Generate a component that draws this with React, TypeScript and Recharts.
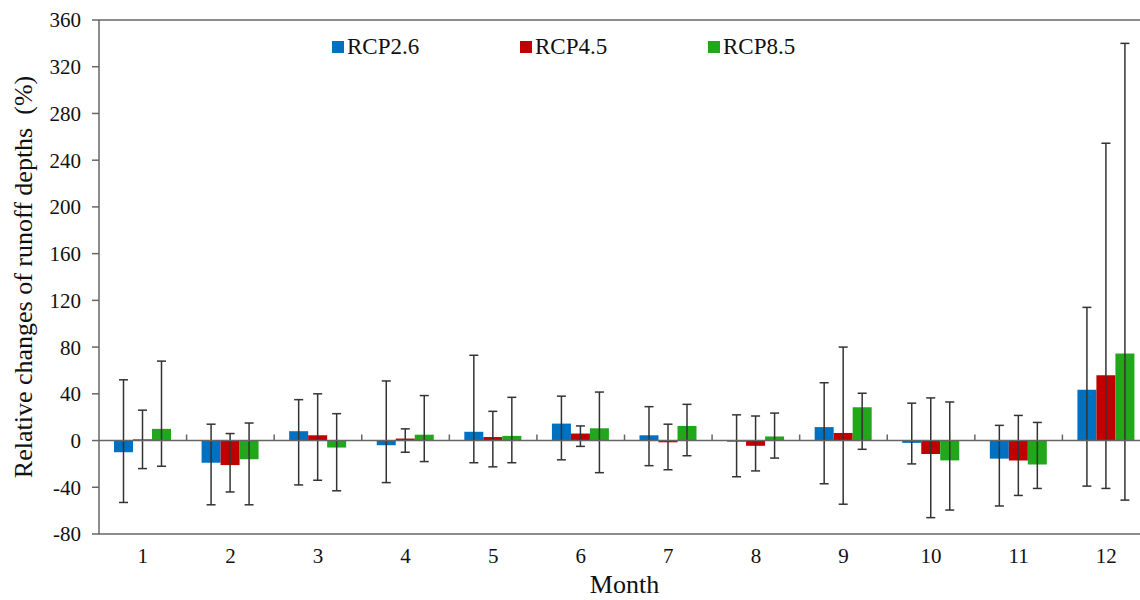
import { BarChart, Bar, XAxis, YAxis, ErrorBar, ReferenceLine } from 'recharts';

const months = ['1', '2', '3', '4', '5', '6', '7', '8', '9', '10', '11', '12'];

// mean relative change (%) per scenario
const rcp26 = [-10, -19, 8, -4, 7.5, 14.5, 4.5, -1, 11.5, -2, -15.5, 43.5];
const rcp45 = [1, -21, 4.5, 1.7, 3, 6, -1.5, -4.5, 6.5, -11.5, -17, 56];
const rcp85 = [10, -16, -6, 5, 4, 10.5, 12.5, 3.5, 28.5, -17, -20.5, 74.5];

// error bar ends (low / high)
const rcp26Low = [-53, -55, -38, -36, -19, -16.5, -21.5, -31, -37, -20, -56, -39];
const rcp26High = [52, 14, 35, 51, 73, 38, 29, 22, 49.5, 32, 13, 114];
const rcp45Low = [-24, -44, -34, -10, -22.5, -5, -25, -26, -54.5, -66, -47, -41];
const rcp45High = [26, 6, 40, 10, 25, 12.5, 14, 21, 80, 36.5, 21.5, 254.5];
const rcp85Low = [-22, -55, -43, -18, -19, -27.5, -13, -15, -7.5, -59.5, -41, -51];
const rcp85High = [68, 15, 23, 38.5, 37, 41.5, 31, 23.5, 40.5, 33, 15.5, 340];

const yTicks = [-80, -40, 0, 40, 80, 120, 160, 200, 240, 280, 320, 360];

const data = months.map((m, i) => ({
    month: m,
    rcp26: rcp26[i],
    rcp45: rcp45[i],
    rcp85: rcp85[i],
    e26: [rcp26[i] - rcp26Low[i], rcp26High[i] - rcp26[i]],
    e45: [rcp45[i] - rcp45Low[i], rcp45High[i] - rcp45[i]],
    e85: [rcp85[i] - rcp85Low[i], rcp85High[i] - rcp85[i]],
}));

const FONT = 'Liberation Serif';
const AXIS = '#666';
const series = [
    { key: 'rcp26', err: 'e26', name: 'RCP2.6', color: '#0070C0' },
    { key: 'rcp45', err: 'e45', name: 'RCP4.5', color: '#C00000' },
    { key: 'rcp85', err: 'e85', name: 'RCP8.5', color: '#21A61C' },
];

// zero line with small category separator ticks
function ZeroLine(props: any) {
    const { x1, x2, y1 } = props;
    const n = months.length;
    const step = (x2 - x1) / n;
    const ticks = [];
    for (let i = 1; i < n; i++) {
        const x = x1 + step * i;
        ticks.push(<line key={i} x1={x} x2={x} y1={y1} y2={y1 - 6} stroke={AXIS} strokeWidth={1.5} />);
    }
    return (
        <g>
            <line x1={x1} x2={x2} y1={y1} y2={y1} stroke={AXIS} strokeWidth={1.5} />
            {ticks}
        </g>
    );
}

export default function App() {
    return (
        <div
            style={{
                position: 'absolute',
                left: 0,
                top: 0,
                width: 1140,
                height: 600,
                overflow: 'hidden',
                background: '#fff',
                fontFamily: FONT,
            }}
        >
            <div style={{ position: 'absolute', top: 34, left: 332, display: 'flex', fontSize: 23, color: '#111', zIndex: 2 }}>
                {series.map((s) => (
                    <div key={s.key} style={{ display: 'flex', alignItems: 'center', width: 188 }}>
                        <span style={{ display: 'inline-block', width: 12, height: 12, background: s.color, marginRight: 3 }} />
                        <span>{s.name}</span>
                    </div>
                ))}
            </div>
            <BarChart
                width={1152}
                height={600}
                data={data}
                margin={{ top: 20, right: 2, left: 0, bottom: 6 }}
                barCategoryGap={15}
                barGap={0}
                style={{ fontFamily: FONT }}
            >
                <XAxis
                    dataKey="month"
                    axisLine={{ stroke: AXIS, strokeWidth: 1.5 }}
                    tickLine={false}
                    tickMargin={8}
                    height={60}
                    tick={{ fontSize: 21, fill: '#111', fontFamily: FONT }}
                    label={{ value: 'Month', position: 'insideBottom', offset: 1, fontSize: 26, fill: '#111', fontFamily: FONT }}
                />
                <YAxis
                    domain={[-80, 360]}
                    ticks={yTicks}
                    interval={0}
                    width={99}
                    axisLine={{ stroke: AXIS, strokeWidth: 1.5 }}
                    tickLine={{ stroke: AXIS, strokeWidth: 1.5 }}
                    tickSize={7}
                    tickMargin={11}
                    tick={{ fontSize: 21, fill: '#111', fontFamily: FONT }}
                    label={{
                        value: 'Relative changes of runoff depths\u00a0 (%)',
                        angle: -90,
                        position: 'insideLeft',
                        offset: 23,
                        style: { textAnchor: 'middle', fontFamily: FONT },
                        fontSize: 26,
                        fill: '#111',
                    }}
                />
                <ReferenceLine y={360} stroke={AXIS} strokeWidth={1.5} />
                {series.map((s) => (
                    <Bar key={s.key} dataKey={s.key} name={s.name} fill={s.color} isAnimationActive={false}>
                        <ErrorBar dataKey={s.err} width={4.5} stroke="#333" strokeWidth={1.5} direction="y" />
                    </Bar>
                ))}
                <ReferenceLine y={0} shape={<ZeroLine />} />
            </BarChart>
        </div>
    );
}
